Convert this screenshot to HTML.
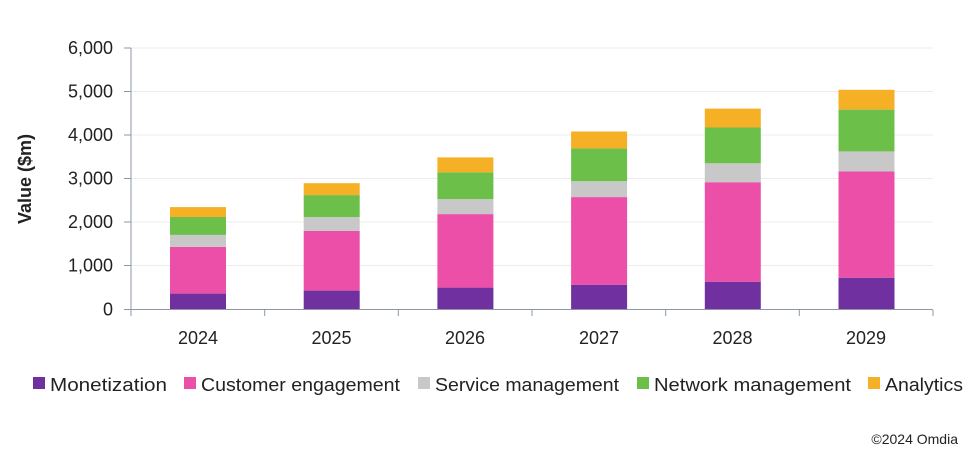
<!DOCTYPE html>
<html><head><meta charset="utf-8"><style>
body{margin:0;background:#fff;width:975px;height:459px;overflow:hidden}
text{font-family:"Liberation Sans",Calibri,sans-serif;fill:#222}
</style></head><body>
<svg width="975" height="459" viewBox="0 0 975 459" xmlns="http://www.w3.org/2000/svg">
<g stroke="#ececec" stroke-width="1">
<line x1="131" x2="933" y1="48" y2="48"/>
<line x1="131" x2="933" y1="91.5" y2="91.5"/>
<line x1="131" x2="933" y1="135" y2="135"/>
<line x1="131" x2="933" y1="178.5" y2="178.5"/>
<line x1="131" x2="933" y1="222" y2="222"/>
<line x1="131" x2="933" y1="265.5" y2="265.5"/>
</g>
<g>
<rect x="170" width="56" y="293.6" height="15.9" fill="#7030a0"/>
<rect x="170" width="56" y="246.9" height="46.7" fill="#ec4fa8"/>
<rect x="170" width="56" y="234.9" height="12" fill="#c8c8c8"/>
<rect x="170" width="56" y="217" height="17.9" fill="#6cc04a"/>
<rect x="170" width="56" y="207.1" height="9.9" fill="#f6b026"/>

<rect x="303.7" width="56" y="290.6" height="18.9" fill="#7030a0"/>
<rect x="303.7" width="56" y="231" height="59.6" fill="#ec4fa8"/>
<rect x="303.7" width="56" y="217" height="14" fill="#c8c8c8"/>
<rect x="303.7" width="56" y="195.1" height="21.9" fill="#6cc04a"/>
<rect x="303.7" width="56" y="183.2" height="11.9" fill="#f6b026"/>

<rect x="437.4" width="56" y="287.6" height="21.9" fill="#7030a0"/>
<rect x="437.4" width="56" y="214.1" height="73.5" fill="#ec4fa8"/>
<rect x="437.4" width="56" y="199.1" height="15" fill="#c8c8c8"/>
<rect x="437.4" width="56" y="172.3" height="26.8" fill="#6cc04a"/>
<rect x="437.4" width="56" y="157.4" height="14.9" fill="#f6b026"/>

<rect x="571.1" width="56" y="284.7" height="24.8" fill="#7030a0"/>
<rect x="571.1" width="56" y="197.1" height="87.6" fill="#ec4fa8"/>
<rect x="571.1" width="56" y="181.2" height="15.9" fill="#c8c8c8"/>
<rect x="571.1" width="56" y="148.4" height="32.8" fill="#6cc04a"/>
<rect x="571.1" width="56" y="131.5" height="16.9" fill="#f6b026"/>

<rect x="704.8" width="56" y="281.7" height="27.8" fill="#7030a0"/>
<rect x="704.8" width="56" y="182.2" height="99.5" fill="#ec4fa8"/>
<rect x="704.8" width="56" y="163.3" height="18.9" fill="#c8c8c8"/>
<rect x="704.8" width="56" y="127.5" height="35.8" fill="#6cc04a"/>
<rect x="704.8" width="56" y="108.6" height="18.9" fill="#f6b026"/>

<rect x="838.5" width="56" y="277.7" height="31.8" fill="#7030a0"/>
<rect x="838.5" width="56" y="171.3" height="106.4" fill="#ec4fa8"/>
<rect x="838.5" width="56" y="151.4" height="19.9" fill="#c8c8c8"/>
<rect x="838.5" width="56" y="109.6" height="41.8" fill="#6cc04a"/>
<rect x="838.5" width="56" y="89.8" height="19.8" fill="#f6b026"/>
</g>
<g stroke="#8c96a6" stroke-width="1" fill="none">
<line x1="131" x2="131" y1="48" y2="310"/>
<line x1="124" x2="933" y1="309.5" y2="309.5"/>
<line x1="124" x2="131" y1="48" y2="48"/><line x1="124" x2="131" y1="91.5" y2="91.5"/><line x1="124" x2="131" y1="135" y2="135"/><line x1="124" x2="131" y1="178.5" y2="178.5"/><line x1="124" x2="131" y1="222" y2="222"/><line x1="124" x2="131" y1="265.5" y2="265.5"/>
<line x1="131" x2="131" y1="310" y2="316"/><line x1="264.7" x2="264.7" y1="310" y2="316"/><line x1="398.3" x2="398.3" y1="310" y2="316"/><line x1="532" x2="532" y1="310" y2="316"/><line x1="665.7" x2="665.7" y1="310" y2="316"/><line x1="799.3" x2="799.3" y1="310" y2="316"/><line x1="933" x2="933" y1="310" y2="316"/>
</g>
<g font-size="18" text-anchor="end">
<text x="113" y="54">6,000</text><text x="113" y="97.5">5,000</text><text x="113" y="141">4,000</text><text x="113" y="184.5">3,000</text><text x="113" y="228">2,000</text><text x="113" y="271.5">1,000</text><text x="113" y="315.5">0</text>
</g>
<g font-size="18" text-anchor="middle">
<text x="198" y="344">2024</text><text x="331.5" y="344">2025</text><text x="465" y="344">2026</text><text x="599" y="344">2027</text><text x="732.5" y="344">2028</text><text x="866" y="344">2029</text>
</g>
<text transform="translate(31,179) rotate(-90)" font-size="18" font-weight="bold" text-anchor="middle">Value ($m)</text>
<g font-size="18">
<rect x="33" y="377" width="12" height="12" fill="#7030a0"/><text x="50" y="391" textLength="117" lengthAdjust="spacingAndGlyphs">Monetization</text>
<rect x="184" y="377" width="12" height="12" fill="#ec4fa8"/><text x="201" y="391" textLength="199" lengthAdjust="spacingAndGlyphs">Customer engagement</text>
<rect x="418" y="377" width="12" height="12" fill="#c8c8c8"/><text x="435" y="391" textLength="184" lengthAdjust="spacingAndGlyphs">Service management</text>
<rect x="637" y="377" width="12" height="12" fill="#6cc04a"/><text x="654" y="391" textLength="197" lengthAdjust="spacingAndGlyphs">Network management</text>
<rect x="868" y="377" width="12" height="12" fill="#f6b026"/><text x="885" y="391" textLength="78" lengthAdjust="spacingAndGlyphs">Analytics</text>
</g>
<text x="958" y="444" font-size="14" text-anchor="end">©2024 Omdia</text>
</svg>
</body></html>
